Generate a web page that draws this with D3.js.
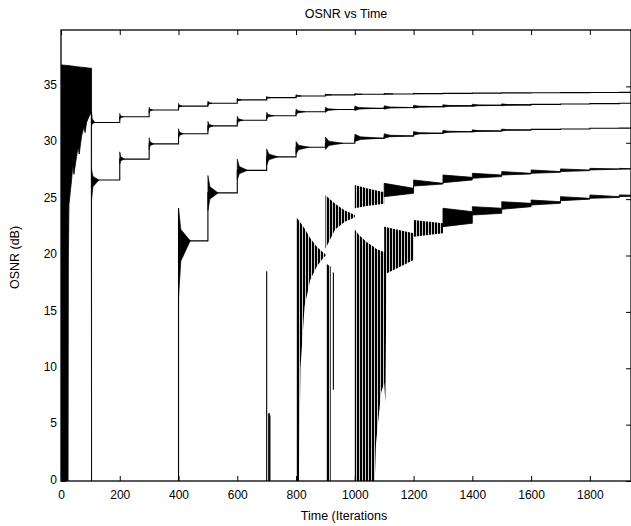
<!DOCTYPE html>
<html>
<head>
<meta charset="utf-8">
<script src="https://cdn.jsdelivr.net/npm/d3@7"></script>
<style>
body { margin: 0; background: #fff; }
text { font-family: "Liberation Sans", Arial, Helvetica, sans-serif; fill: #000; }
</style>
</head>
<body>
<svg id="chart" width="631" height="526"></svg>
<script>
var xTicks = [0, 200, 400, 600, 800, 1000, 1200, 1400, 1600, 1800];
var yTicks = [0, 5, 10, 15, 20, 25, 30, 35];

// start-up transient, [t, low, high]
var startBurst = [[0,0,36.9],[24,0,36.85],[25,19.5,36.85],[27,24.5,36.85],[36,26.7,36.8],[40,28.0,36.8],
  [44,27.2,36.78],[53,28.8,36.75],[58,29.6,36.73],[62,29.0,36.72],[70,30.6,36.7],[78,31.4,36.68],
  [82,30.9,36.67],[87,31.8,36.65],[95,32.3,36.62],[103,32.7,36.6],[104,0,36.6]];

// settled level of each channel after every step, [t, osnr]
var levelsA = [[104,31.8],[200,32.3],[300,32.9],[400,33.25],[500,33.5],[600,33.8],[700,34.0],[800,34.15],
  [900,34.25],[1000,34.3],[1100,34.33],[1200,34.36],[1300,34.38],[1400,34.4],[1500,34.42],[1600,34.44],
  [1700,34.45],[1800,34.46],[1900,34.47],[1940,34.47]];
var levelsB = [[104,26.7],[200,28.55],[300,29.9],[400,30.8],[500,31.5],[600,32.0],[700,32.4],[800,32.75],
  [900,32.95],[1000,33.05],[1100,33.12],[1200,33.2],[1300,33.27],[1400,33.32],[1500,33.36],[1600,33.4],
  [1700,33.44],[1800,33.47],[1900,33.5],[1940,33.5]];
var levelsC = [[400,21.3],[500,25.55],[600,27.55],[700,28.75],[800,29.6],[900,29.95],[1000,30.4],[1100,30.6],
  [1200,30.84],[1300,30.98],[1400,31.04],[1500,31.13],[1600,31.19],[1700,31.22],[1800,31.28],[1900,31.3],[1940,31.3]];

// overshoot after each step, [t, low, high, settle time]
var flagsA = [[104,31.5,32.7,12],[200,32.05,32.6,12],[300,32.65,33.15,12],[400,33.05,33.5,12],[500,33.3,33.7,14],
  [600,33.65,33.95,14],[700,33.88,34.12,16],[800,34.05,34.27,18],[900,34.17,34.33,20],[1000,34.24,34.36,25],
  [1100,34.29,34.38,30],[1200,34.32,34.4,30]];
var flagsB = [[104,25.0,27.6,25],[200,28.1,29.2,15],[300,29.4,30.45,15],[400,30.35,31.25,16],[500,31.05,31.9,18],
  [600,31.65,32.35,20],[700,32.1,32.7,25],[800,32.45,33.0,30],[900,32.7,33.15,45],[1000,32.85,33.25,70],
  [1100,32.98,33.28,100],[1200,33.07,33.33,100],[1300,33.15,33.38,100],[1400,33.22,33.42,100],[1500,33.28,33.45,100]];
var flagsC = [[400,16.2,24.2,40],[500,24.0,27.1,35],[600,26.7,28.55,35],[700,28.0,29.45,38],[800,29.0,30.1,45],
  [900,29.4,30.5,60],[1000,30.1,30.75,100],[1100,30.4,30.8,100],[1200,30.68,31.0,100],[1300,30.85,31.1,100],
  [1400,30.95,31.15,100],[1500,31.05,31.22,100]];

// channel D and E oscillation envelopes, [t, low, high]
var burstD = [[800,0,23.4],[810,0,23.1],[815,10,22.9],[829,15.5,22.4],[848,17.8,21.55],[870,19.0,20.8],
  [893,19.8,20.25],[900,19.95,20.1],[900,20.6,25.35],[933,22.3,24.6],[966,23.0,24.0],[1000,23.4,23.6],
  [1000,24.2,26.25],[1040,24.4,25.96],[1100,24.6,25.6]];
var bandD = [[1100,25.22,26.4],[1200,25.52,25.96],[1200,26.16,26.7],[1300,26.34,26.4],[1300,26.46,27.14],
  [1400,26.7,26.93],[1400,26.85,27.29],[1500,27.0,27.14],[1500,27.14,27.44],[1600,27.23,27.29],
  [1600,27.29,27.59],[1700,27.38,27.44],[1700,27.44,27.68],[1800,27.53,27.58],[1800,27.59,27.73],
  [1900,27.65,27.68],[1900,27.65,27.73],[1940,27.67,27.7]];
var kickE = [[902,0,19.3],[918,0,19.0]];
var burstE = [[1000,0,22.3],[1015,0,21.8],[1040,0,21.2],[1068,0,20.7],[1072,3.3,20.6],[1080,5.4,20.5],
  [1090,7.9,20.4],[1100,8.7,20.3],[1100,8.7,22.56],[1104,7.0,22.55],[1108,18.4,22.5],[1200,19.6,21.97],
  [1200,21.67,23.15],[1300,21.97,22.86]];
var bandE = [[1300,22.56,24.19],[1400,22.86,23.89],[1400,23.59,24.33],[1500,23.74,24.19],[1500,24.1,24.77],
  [1600,24.33,24.63],[1600,24.48,24.92],[1700,24.63,24.77],[1700,24.86,25.22],[1800,25.0,25.07],
  [1800,25.07,25.37],[1900,25.15,25.22],[1900,25.22,25.37],[1940,25.25,25.35]];

// single vertical excursions, [t, low, high]
var riseLines = [[400,0,24.2],[700,0,18.6],[707,0,6.0],[709,0,6.0],[711,0,5.8],[927,8.1,18.5]];

var svg = d3.select("#chart"),
    width = +svg.attr("width"),
    height = +svg.attr("height");
var margin = {top: 30, right: 0, bottom: 45, left: 61};

var x = d3.scaleLinear().domain([0, 1940]).range([margin.left, width - margin.right]);
var y = d3.scaleLinear().domain([0, 40]).range([height - margin.bottom, margin.top]);

var defs = svg.append("defs");
defs.append("clipPath").attr("id", "plotclip")
  .append("rect")
  .attr("x", x(0)).attr("y", y(40))
  .attr("width", x(1940) - x(0)).attr("height", y(0) - y(40));
defs.append("pattern").attr("id", "stripes")
  .attr("patternUnits", "userSpaceOnUse")
  .attr("width", 3).attr("height", 10)
  .append("rect").attr("width", 2.2).attr("height", 10).attr("fill", "#000");

var plot = svg.append("g").attr("clip-path", "url(#plotclip)");

var area = d3.area()
    .x(function(d) { return x(d[0]); })
    .y0(function(d) { return y(d[1]); })
    .y1(function(d) { return y(d[2]); });
var stepLine = d3.line()
    .x(function(d) { return x(d[0]); })
    .y(function(d) { return y(d[1]); })
    .curve(d3.curveStepAfter);

// solid bands
[startBurst, bandD, bandE].forEach(function(b) {
  plot.append("path").datum(b)
    .attr("d", area)
    .attr("fill", "#000")
    .attr("stroke", "#000")
    .attr("stroke-width", 0.8);
});

// dense oscillation, drawn striped
[burstD, kickE, burstE].forEach(function(b) {
  plot.append("path").datum(b)
    .attr("d", area)
    .attr("fill", "url(#stripes)");
});

// overshoot flags, a decaying wedge from the step to the settled level
function flagData(flags, levels) {
  return flags.map(function(f) {
    var lv = levels.filter(function(l) { return l[0] <= f[0]; }).pop()[1];
    return [[f[0], f[1], f[2]],
            [f[0] + f[3] * 0.2, lv + (f[1] - lv) * 0.35, lv + (f[2] - lv) * 0.35],
            [f[0] + f[3], lv, lv]];
  });
}
[[flagsA, levelsA], [flagsB, levelsB], [flagsC, levelsC]].forEach(function(p) {
  plot.append("g").selectAll("path")
    .data(flagData(p[0], p[1]))
    .enter().append("path")
    .attr("d", area)
    .attr("fill", "#000")
    .attr("stroke", "#000")
    .attr("stroke-width", 0.6);
});

// settled levels
[levelsA, levelsB, levelsC].forEach(function(l) {
  plot.append("path").datum(l)
    .attr("d", stepLine)
    .attr("fill", "none")
    .attr("stroke", "#000")
    .attr("stroke-width", 1.1);
});

plot.append("g").selectAll("line")
  .data(riseLines)
  .enter().append("line")
  .attr("x1", function(d) { return x(d[0]); })
  .attr("x2", function(d) { return x(d[0]); })
  .attr("y1", function(d) { return y(d[1]); })
  .attr("y2", function(d) { return y(d[2]); })
  .attr("stroke", "#000")
  .attr("stroke-width", 1.1);

// axes, MATLAB style inward ticks on all sides
var font = '"Liberation Sans", Arial, Helvetica, sans-serif';
var fmt = d3.format("d");
var xb = svg.append("g").attr("transform", "translate(0," + y(0) + ")")
  .call(d3.axisBottom(x).tickValues(xTicks).tickFormat(fmt).tickSize(-5).tickSizeOuter(0).tickPadding(9));
var yl = svg.append("g").attr("transform", "translate(" + x(0) + ",0)")
  .call(d3.axisLeft(y).tickValues(yTicks).tickFormat(fmt).tickSize(-5).tickSizeOuter(0).tickPadding(4));
yl.selectAll("text").attr("dy", "0.18em");
svg.append("g").attr("transform", "translate(0," + y(40) + ")")
  .call(d3.axisTop(x).tickValues(xTicks).tickSize(-5).tickSizeOuter(0).tickFormat(""));
svg.append("g").attr("transform", "translate(" + x(1940) + ",0)")
  .call(d3.axisRight(y).tickValues(yTicks).tickSize(-5).tickSizeOuter(0).tickFormat(""));
svg.selectAll(".domain").remove();
svg.selectAll(".tick line").attr("stroke-width", 1);
[xb, yl].forEach(function(g) {
  g.attr("font-size", 12).attr("font-family", font);
});

svg.append("rect")
  .attr("x", x(0)).attr("y", y(40))
  .attr("width", x(1940) - x(0)).attr("height", y(0) - y(40))
  .attr("fill", "none")
  .attr("stroke", "#000")
  .attr("stroke-width", 1.3);

svg.append("text")
  .attr("x", (x(0) + x(1940)) / 2).attr("y", 18)
  .attr("text-anchor", "middle")
  .attr("font-size", 12.5)
  .text("OSNR vs Time");

svg.append("text")
  .attr("x", 344).attr("y", 520)
  .attr("text-anchor", "middle")
  .attr("font-size", 12.5)
  .text("Time (Iterations");

svg.append("text")
  .attr("transform", "translate(19," + ((y(0) + y(40)) / 2 + 2) + ") rotate(-90)")
  .attr("text-anchor", "middle")
  .attr("font-size", 12.5)
  .text("OSNR (dB)");
</script>
</body>
</html>
